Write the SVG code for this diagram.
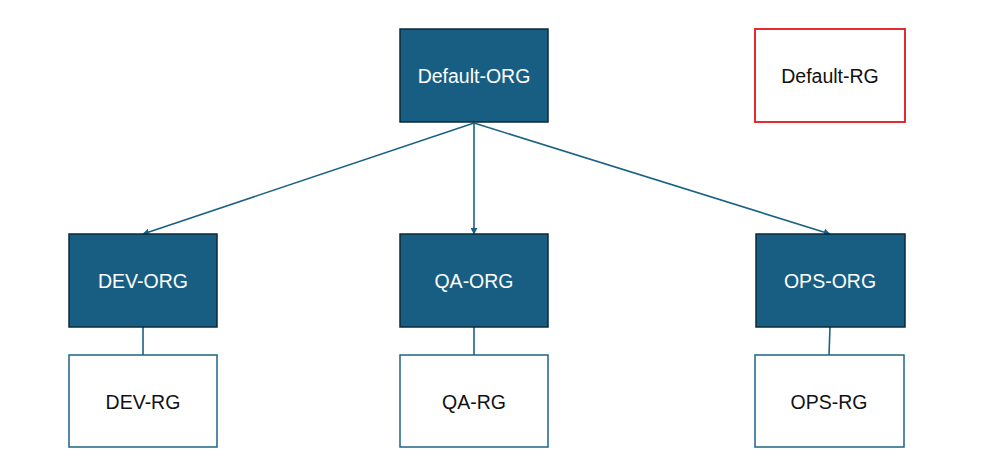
<svg xmlns="http://www.w3.org/2000/svg" width="999" height="475" viewBox="0 0 999 475">
<style>
.org{fill:#175e82;stroke:#0d2a3a;stroke-width:1.5}
.rg{fill:#fff;stroke:#1c6487;stroke-width:1.5}
.red{fill:#fff;stroke:#e0161b;stroke-width:1.8}
.tw{font-family:"Liberation Sans",Arial,sans-serif;font-size:19.5px;fill:#fff;text-anchor:middle;dominant-baseline:central}
.tb{font-family:"Liberation Sans",Arial,sans-serif;font-size:19.5px;fill:#111;text-anchor:middle;dominant-baseline:central}
.c{stroke:#1a6185;stroke-width:1.6;fill:none}
</style>
<defs>
<marker id="ah" viewBox="0 0 10 10" refX="9" refY="5" markerWidth="7" markerHeight="7" markerUnits="userSpaceOnUse" orient="auto">
<path d="M0,0 L10,5 L0,10 z" fill="#1a6185"/>
</marker>
</defs>
<g id="connectors">
<path class="c" d="M474,123 L143,234" marker-end="url(#ah)"/>
<path class="c" d="M474,123 L474,234" marker-end="url(#ah)"/>
<path class="c" d="M474,123 L830,234" marker-end="url(#ah)"/>
<path class="c" d="M143,327 L143,355"/>
<path class="c" d="M474,327 L474,355"/>
<path class="c" d="M830,327 L829,355"/>
</g>
<g id="default-org"><rect class="org" x="400" y="29" width="148" height="93"/><text class="tw" x="474" y="76">Default-ORG</text></g>
<g id="default-rg"><rect class="red" x="755" y="29" width="150" height="93"/><text class="tb" x="830" y="76">Default-RG</text></g>
<g id="dev-org"><rect class="org" x="69" y="234" width="148" height="93"/><text class="tw" x="143" y="281">DEV-ORG</text></g>
<g id="qa-org"><rect class="org" x="400" y="234" width="148" height="93"/><text class="tw" x="474" y="281">QA-ORG</text></g>
<g id="ops-org"><rect class="org" x="756" y="234" width="149" height="93"/><text class="tw" x="830" y="281">OPS-ORG</text></g>
<g id="dev-rg"><rect class="rg" x="69" y="355" width="148" height="92"/><text class="tb" x="143" y="402">DEV-RG</text></g>
<g id="qa-rg"><rect class="rg" x="400" y="355" width="148" height="92"/><text class="tb" x="474" y="402">QA-RG</text></g>
<g id="ops-rg"><rect class="rg" x="755" y="355" width="149" height="92"/><text class="tb" x="829" y="402">OPS-RG</text></g>
</svg>
